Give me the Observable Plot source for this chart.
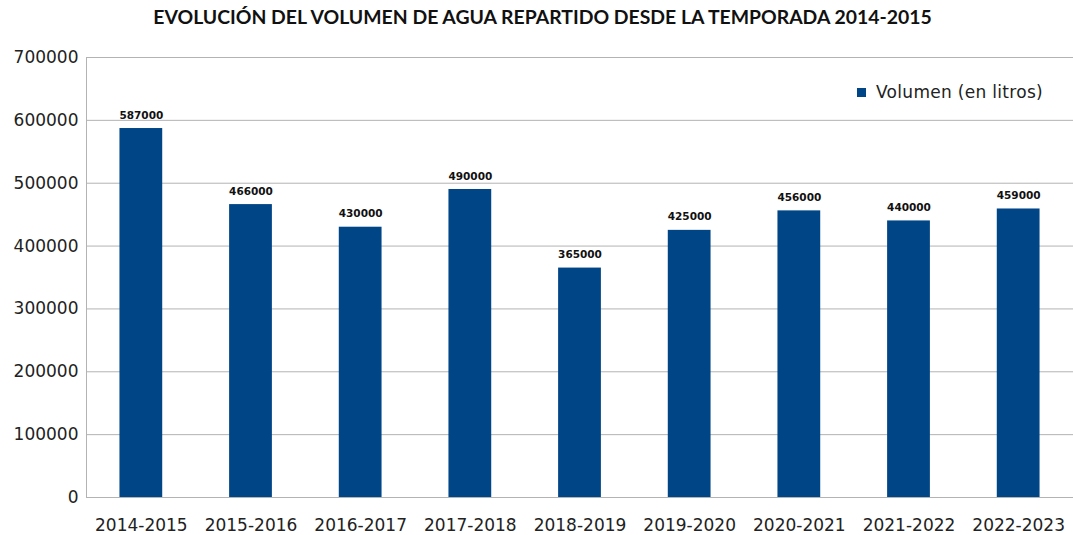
<!DOCTYPE html>
<html>
<head>
<meta charset="utf-8">
<script src="https://cdn.jsdelivr.net/npm/d3@7"></script>
<script src="https://cdn.jsdelivr.net/npm/@observablehq/plot@0.6"></script>
<style>
  html, body { margin: 0; padding: 0; background: #fff; }
  #wrap { position: relative; width: 1073px; height: 535px; overflow: hidden; }
  #title { position: absolute; left: 0; top: 5px; width: 1085px; text-align: center;
           font-family: Lato, "Liberation Sans", sans-serif; font-weight: bold; font-size: 19.4px; color: #111; }
  #chart { position: absolute; left: 0; top: 40px; }
  #legend { position: absolute; left: 857px; top: 82px; font-family: "DejaVu Sans", sans-serif;
            font-size: 17px; letter-spacing: 0.3px; color: #222; display: flex; align-items: center; }
  #legend span.sw { display: inline-block; width: 9px; height: 9px; background: #004586; margin-right: 10px; }
</style>
</head>
<body>
<div id="wrap">
  <div id="title">EVOLUCIÓN DEL VOLUMEN DE AGUA REPARTIDO DESDE LA TEMPORADA 2014-2015</div>
  <div id="chart"></div>
  <div id="legend"><span class="sw"></span><span>Volumen (en litros)</span></div>
</div>
<script>
const seasons = ["2014-2015","2015-2016","2016-2017","2017-2018","2018-2019","2019-2020","2020-2021","2021-2022","2022-2023"];
const volumes = [587000, 466000, 430000, 490000, 365000, 425000, 456000, 440000, 459000];
const yTicks = [0, 100000, 200000, 300000, 400000, 500000, 600000, 700000];

const data = seasons.map((s, i) => ({season: s, volume: volumes[i]}));

const chart = Plot.plot({
  width: 1073,
  height: 495,
  marginLeft: 86,
  marginRight: 0,
  marginTop: 17,
  marginBottom: 38,
  style: {fontFamily: "'DejaVu Sans', sans-serif", fontSize: "17px", color: "#222", background: "#fff"},
  x: {domain: seasons, paddingInner: 0.61, paddingOuter: 0.305, round: false, label: null},
  y: {domain: [0, 700000], label: null},
  marks: [
    Plot.gridY(yTicks, {stroke: "#b3b3b3", strokeOpacity: 1}),
    Plot.barY(data, {x: "season", y: "volume", fill: "#004586"}),
    Plot.text(data, {x: "season", y: "volume", text: d => String(d.volume), dy: -10, lineAnchor: "bottom",
                     fontWeight: "bold", fontSize: 10.5, fill: "#111"}),
    Plot.ruleY([0], {stroke: "#b3b3b3"}),
    Plot.frame({anchor: "left", stroke: "#b3b3b3"}),
    Plot.axisY(yTicks, {tickSize: 0, tickPadding: 8, tickFormat: d => String(d), fontSize: 17}),
    Plot.axisX({tickSize: 0, tickPadding: 21, fontSize: 17})
  ]
});
document.getElementById("chart").appendChild(chart);
</script>
</body>
</html>
